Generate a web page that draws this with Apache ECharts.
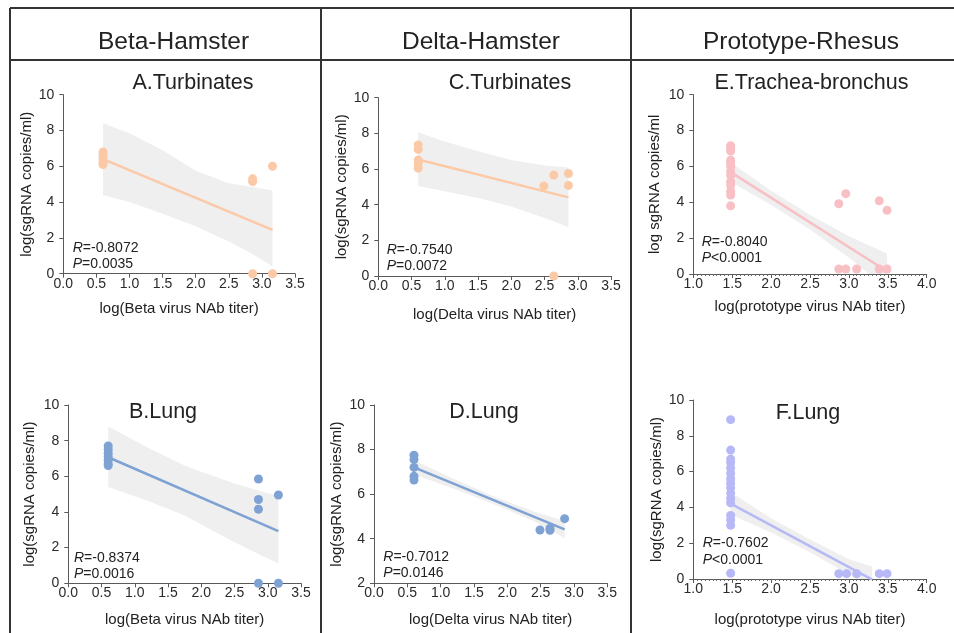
<!DOCTYPE html>
<html>
<head>
<meta charset="utf-8">
<script src="https://cdn.jsdelivr.net/npm/echarts@6/dist/echarts.min.js"></script>
<style>
html, body { margin: 0; padding: 0; background: #fff; }
#chart { width: 954px; height: 633px; }
</style>
</head>
<body>
<div id="chart"></div>
<script>
// A. Beta-Hamster, turbinates
const aPtsX = [0.6, 0.6, 0.6, 0.6, 0.6, 2.86, 2.86, 2.86, 3.16, 3.16];
const aPtsY = [6.8, 6.6, 6.4, 6.2, 6.1, 5.3, 5.15, 0, 6.0, 0];
const aFitX = [0.6, 3.16];
const aFitY = [6.4, 2.45];
const aBandX = [0.6, 1.0, 1.5, 2.0, 2.5, 2.86, 3.16];
const aBandHi = [8.4, 7.85, 6.9, 5.75, 5.05, 4.85, 4.65];
const aBandLo = [4.4, 4.0, 3.35, 2.65, 1.8, 1.1, 0.4];

// B. Beta-Hamster, lung
const bPtsX = [0.6, 0.6, 0.6, 0.6, 0.6, 0.6, 0.6, 2.86, 2.86, 2.86, 2.86, 3.16, 3.16];
const bPtsY = [7.7, 7.5, 7.3, 7.1, 6.9, 6.7, 6.6, 5.85, 4.7, 4.15, 0, 4.95, 0];
const bFitX = [0.6, 3.16];
const bFitY = [7.07, 2.93];
const bBandX = [0.6, 1.25, 1.75, 2.0, 2.5, 2.86, 3.16];
const bBandHi = [8.8, 7.5, 6.6, 6.25, 5.6, 5.2, 4.9];
const bBandLo = [5.4, 4.55, 3.8, 3.3, 2.3, 1.65, 1.1];

// C. Delta-Hamster, turbinates
const cPtsX = [0.6, 0.6, 0.6, 0.6, 0.6, 2.49, 2.64, 2.64, 2.86, 2.86];
const cPtsY = [7.35, 7.1, 6.5, 6.3, 6.05, 5.05, 5.66, 0, 5.75, 5.08];
const cFitX = [0.6, 2.86];
const cFitY = [6.53, 4.41];
const cBandX = [0.6, 1.0, 1.5, 2.0, 2.5, 2.86];
const cBandHi = [8.05, 7.55, 7.0, 6.5, 6.2, 6.08];
const cBandLo = [5.05, 4.75, 4.38, 3.9, 3.25, 2.75];

// D. Delta-Hamster, lung
const dPtsX = [0.6, 0.6, 0.6, 0.6, 0.6, 2.49, 2.64, 2.64, 2.86];
const dPtsY = [7.75, 7.55, 7.2, 6.8, 6.63, 4.39, 4.47, 4.38, 4.9];
const dFitX = [0.6, 2.86];
const dFitY = [7.2, 4.42];
const dBandX = [0.6, 1.2, 1.8, 2.4, 2.86];
const dBandHi = [7.52, 6.68, 5.9, 5.22, 4.8];
const dBandLo = [6.88, 6.24, 5.55, 4.78, 4.02];

// E. Prototype-Rhesus, trachea-bronchus
const ePtsX = [1.48, 1.48, 1.48, 1.48, 1.48, 1.48, 1.48, 1.48, 1.48, 1.48, 1.48, 1.48, 1.48,
    2.87, 2.96, 3.39, 3.49, 2.87, 2.96, 3.1, 3.39, 3.49];
const ePtsY = [7.15, 7.0, 6.85, 6.35, 6.2, 6.0, 5.7, 5.5, 5.15, 4.95, 4.6, 4.4, 3.8,
    3.92, 4.48, 4.08, 3.55, 0.28, 0.28, 0.28, 0.28, 0.28];
const eFitX = [1.48, 3.49];
const eFitY = [5.68, 0.15];
const eBandX = [1.48, 2.0, 2.5, 3.0, 3.49];
const eBandHi = [6.22, 4.65, 3.3, 2.1, 1.15];
const eBandLo = [5.14, 3.85, 2.48, 0.9, -0.8];

// F. Prototype-Rhesus, lung
const fPtsX = [1.48, 1.48, 1.48, 1.48, 1.48, 1.48, 1.48, 1.48, 1.48, 1.48, 1.48, 1.48, 1.48, 1.48, 1.48, 1.48,
    2.87, 2.97, 3.1, 3.39, 3.49];
const fPtsY = [8.9, 7.2, 6.7, 6.5, 6.2, 5.9, 5.6, 5.35, 5.1, 4.8, 4.5, 4.25, 3.55, 3.3, 3.0, 0.32,
    0.3, 0.3, 0.3, 0.3, 0.3];
const fFitX = [1.48, 3.3];
const fFitY = [4.21, -0.03];
const fBandX = [1.48, 2.0, 2.5, 3.0, 3.3];
const fBandHi = [4.85, 3.4, 2.2, 1.1, 0.7];
const fBandLo = [3.6, 2.6, 1.5, 0.25, -0.6];

const FONT = "'Liberation Sans', Arial, sans-serif";
const BAND = '#efefef';

// one entry per small chart
const panels = [
    { title: 'A.Turbinates', tx: 193, ty: 83, rx: 72.7, ry: 247.7, r: '-0.8072', p: '=0.0035',
      grid: { left: 63.3, top: 94.7, width: 231.7, height: 179 }, xMin: 0, xMax: 3.5, yMin: 0, yMax: 10,
      xName: 'log(Beta virus NAb titer)', yName: 'log(sgRNA copies/ml)', xGap: 28, yGap: 29,
      color: '#fcc9a7', ptsX: aPtsX, ptsY: aPtsY, fitX: aFitX, fitY: aFitY, bx: aBandX, bh: aBandHi, bl: aBandLo },
    { title: 'B.Lung', tx: 163, ty: 412, rx: 74, ry: 557.7, r: '-0.8374', p: '=0.0016',
      grid: { left: 68.3, top: 405, width: 232.7, height: 178.3 }, xMin: 0, xMax: 3.5, yMin: 0, yMax: 10,
      xName: 'log(Beta virus NAb titer)', yName: 'log(sgRNA copies/ml)', xGap: 29, yGap: 31,
      color: '#7ea2d3', ptsX: bPtsX, ptsY: bPtsY, fitX: bFitX, fitY: bFitY, bx: bBandX, bh: bBandHi, bl: bBandLo },
    { title: 'C.Turbinates', tx: 510, ty: 83, rx: 386.7, ry: 250, r: '-0.7540', p: '=0.0072',
      grid: { left: 378.3, top: 97.7, width: 232.7, height: 178.3 }, xMin: 0, xMax: 3.5, yMin: 0, yMax: 10,
      xName: 'log(Delta virus NAb titer)', yName: 'log(sgRNA copies/ml)', xGap: 31, yGap: 29,
      color: '#fcc9a7', ptsX: cPtsX, ptsY: cPtsY, fitX: cFitX, fitY: cFitY, bx: cBandX, bh: cBandHi, bl: cBandLo },
    { title: 'D.Lung', tx: 484, ty: 412, rx: 383.3, ry: 556.7, r: '-0.7012', p: '=0.0146',
      grid: { left: 374, top: 405, width: 233.3, height: 178.3 }, xMin: 0, xMax: 3.5, yMin: 2, yMax: 10,
      xName: 'log(Delta virus NAb titer)', yName: 'log(sgRNA copies/ml)', xGap: 29, yGap: 29.5,
      color: '#7ea2d3', ptsX: dPtsX, ptsY: dPtsY, fitX: dFitX, fitY: dFitY, bx: dBandX, bh: dBandHi, bl: dBandLo },
    { title: 'E.Trachea-bronchus', tx: 811.5, ty: 83, rx: 701.7, ry: 241.7, r: '-0.8040', p: '<0.0001',
      grid: { left: 693.3, top: 94.7, width: 233.4, height: 179.3 }, xMin: 1, xMax: 4, yMin: 0, yMax: 10,
      xName: 'log(prototype virus NAb titer)', yName: 'log sgRNA copies/ml', xGap: 25, yGap: 31, minor: true,
      color: '#f8bfc5', ptsX: ePtsX, ptsY: ePtsY, fitX: eFitX, fitY: eFitY, bx: eBandX, bh: eBandHi, bl: eBandLo },
    { title: 'F.Lung', tx: 808, ty: 413, rx: 702.7, ry: 543.3, r: '-0.7602', p: '<0.0001',
      grid: { left: 693.3, top: 400, width: 233.4, height: 179 }, xMin: 1, xMax: 4, yMin: 0, yMax: 10,
      xName: 'log(prototype virus NAb titer)', yName: 'log(sgRNA copies/ml)', xGap: 33, yGap: 29, minor: true,
      color: '#b7b8f6', ptsX: fPtsX, ptsY: fPtsY, fitX: fFitX, fitY: fFitY, bx: fBandX, bh: fBandHi, bl: fBandLo }
];

const axisLine = { show: true, lineStyle: { color: '#5a5a5a', width: 1 } };
const axisTick = { show: true, length: 4, lineStyle: { color: '#5a5a5a' } };

const grids = [], xAxes = [], yAxes = [], series = [], graphics = [];

panels.forEach((pn, i) => {
    grids.push(Object.assign({ containLabel: false }, pn.grid));
    xAxes.push({
        type: 'value', gridIndex: i, min: pn.xMin, max: pn.xMax, interval: 0.5,
        axisLine: axisLine, axisTick: axisTick, splitLine: { show: false },
        minorTick: { show: !!pn.minor, splitNumber: 10, length: 2, lineStyle: { color: '#666' } },
        axisLabel: { margin: 3, fontSize: 14, color: '#2a2a2a', fontFamily: FONT, formatter: v => v.toFixed(1) },
        name: pn.xName, nameLocation: 'middle', nameGap: pn.xGap,
        nameTextStyle: { fontSize: 15, color: '#222', fontFamily: FONT }
    });
    yAxes.push({
        type: 'value', gridIndex: i, min: pn.yMin, max: pn.yMax, interval: 2,
        axisLine: axisLine, axisTick: axisTick, splitLine: { show: false },
        axisLabel: { margin: 9, fontSize: 14, color: '#2a2a2a', fontFamily: FONT },
        name: pn.yName, nameLocation: 'middle', nameGap: pn.yGap,
        nameTextStyle: { fontSize: 15, color: '#222', fontFamily: FONT }
    });
    // confidence band
    series.push({
        type: 'custom', xAxisIndex: i, yAxisIndex: i, clip: true, silent: true, z: 1,
        data: pn.bx.map((x, k) => [x, pn.bl[k], pn.bh[k]]),
        encode: { x: 0, y: [1, 2] },
        renderItem: (params, api) => {
            if (params.dataIndex !== 0) return null;
            const pts = [];
            pn.bx.forEach((x, k) => pts.push(api.coord([x, pn.bh[k]])));
            for (let k = pn.bx.length - 1; k >= 0; k--) pts.push(api.coord([pn.bx[k], pn.bl[k]]));
            return { type: 'polygon', shape: { points: pts }, style: { fill: BAND } };
        }
    });
    // regression line
    series.push({
        type: 'line', xAxisIndex: i, yAxisIndex: i, z: 2, clip: true, silent: true,
        showSymbol: false, symbol: 'none',
        data: pn.fitX.map((x, k) => [x, pn.fitY[k]]),
        lineStyle: { color: pn.color, width: 2.5 }
    });
    // points
    series.push({
        type: 'scatter', xAxisIndex: i, yAxisIndex: i, z: 3, clip: false, silent: true,
        symbolSize: 9,
        data: pn.ptsX.map((x, k) => [x, pn.ptsY[k]]),
        itemStyle: { color: pn.color, opacity: 1 }
    });
    graphics.push({
        type: 'text', x: pn.tx, y: pn.ty, z: 10,
        style: { text: pn.title, fontSize: 21.5, fontFamily: FONT, fill: '#222', align: 'center', verticalAlign: 'middle' }
    });
    graphics.push({
        type: 'text', x: pn.rx, y: pn.ry, z: 10,
        style: { text: '{i|R}=' + pn.r, fontSize: 14, fontFamily: FONT, fill: '#222', verticalAlign: 'middle',
            rich: { i: { fontStyle: 'italic', fontSize: 14, fontFamily: FONT, fill: '#222' } } }
    });
    graphics.push({
        type: 'text', x: pn.rx, y: pn.ry + 16.5, z: 10,
        style: { text: '{i|P}' + pn.p, fontSize: 14, fontFamily: FONT, fill: '#222', verticalAlign: 'middle',
            rich: { i: { fontStyle: 'italic', fontSize: 14, fontFamily: FONT, fill: '#222' } } }
    });
});

// table frame and column headers
const heads = [['Beta-Hamster', 173.5], ['Delta-Hamster', 481], ['Prototype-Rhesus', 801]];
heads.forEach(h => graphics.push({
    type: 'text', x: h[1], y: 42, z: 10,
    style: { text: h[0], fontSize: 24.5, fontFamily: FONT, fill: '#222', align: 'center', verticalAlign: 'middle' }
}));
const frame = [[10, 8, 954, 8], [10, 60, 954, 60], [10, 8, 10, 633], [321, 8, 321, 633], [631, 8, 631, 633]];
frame.forEach(s => graphics.push({
    type: 'line', z: 10, shape: { x1: s[0], y1: s[1], x2: s[2], y2: s[3] },
    style: { stroke: '#333', lineWidth: 2 }
}));

const chart = echarts.init(document.getElementById('chart'));
chart.setOption({
    animation: false,
    backgroundColor: '#fff',
    grid: grids,
    xAxis: xAxes,
    yAxis: yAxes,
    series: series,
    graphic: graphics
});
</script>
</body>
</html>
